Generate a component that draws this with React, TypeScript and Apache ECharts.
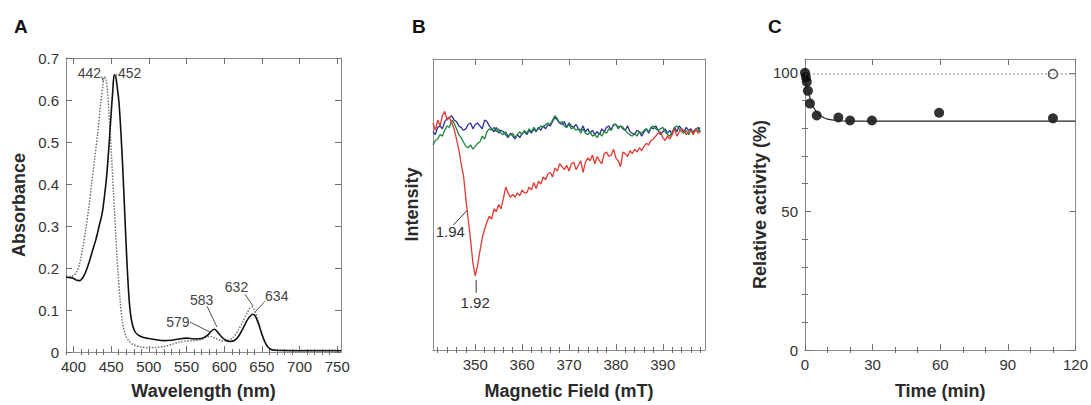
import React, { useEffect, useRef } from "react";
import * as echarts from "echarts";

// ---------- Panel A: absorption spectra ----------
const wavelengthReduced = [390, 396, 400, 404, 408, 412, 416, 420, 425, 430, 434, 438, 441, 444, 447, 450, 452, 454, 456, 458, 460, 462, 465, 468, 471, 474, 477, 481, 486, 492, 500, 510, 520, 530, 540, 550, 560, 570, 578, 583, 587, 591, 596, 602, 608, 614, 620, 626, 632, 638, 641, 645, 649, 653, 657, 662, 668, 700, 755];
const absorbanceReduced = [0.178, 0.177, 0.175, 0.171, 0.17, 0.176, 0.19, 0.21, 0.24, 0.27, 0.3, 0.33, 0.37, 0.42, 0.49, 0.57, 0.62, 0.66, 0.655, 0.63, 0.6, 0.55, 0.45, 0.33, 0.21, 0.12, 0.075, 0.05, 0.04, 0.035, 0.032, 0.029, 0.027, 0.028, 0.031, 0.033, 0.031, 0.032, 0.04, 0.05, 0.054, 0.048, 0.037, 0.028, 0.025, 0.028, 0.04, 0.06, 0.08, 0.09, 0.086, 0.07, 0.048, 0.028, 0.014, 0.006, 0.004, 0.003, 0.003];
const wavelengthOxidized = [390, 396, 400, 404, 408, 412, 416, 420, 424, 428, 432, 436, 439, 441, 443, 445, 447, 450, 453, 456, 459, 462, 465, 469, 474, 480, 490, 500, 510, 520, 530, 540, 550, 560, 570, 577, 582, 588, 594, 600, 606, 612, 618, 624, 630, 634, 637, 640, 644, 648, 652, 656, 660, 666, 700, 755];
const absorbanceOxidized = [0.18, 0.18, 0.182, 0.19, 0.21, 0.245, 0.29, 0.34, 0.4, 0.46, 0.52, 0.59, 0.635, 0.655, 0.65, 0.62, 0.57, 0.48, 0.38, 0.28, 0.19, 0.12, 0.07, 0.04, 0.025, 0.017, 0.012, 0.01, 0.011, 0.013, 0.018, 0.023, 0.026, 0.027, 0.03, 0.036, 0.037, 0.033, 0.028, 0.026, 0.028, 0.035, 0.05, 0.07, 0.092, 0.104, 0.107, 0.1, 0.08, 0.055, 0.032, 0.017, 0.009, 0.005, 0.004, 0.004];
const wavelengthTicks = [400, 450, 500, 550, 600, 650, 700, 750];
const wavelengthMinorTicks = [390, 410, 420, 430, 440, 460, 470, 480, 490, 510, 520, 530, 540, 560, 570, 580, 590, 610, 620, 630, 640, 660, 670, 680, 690, 710, 720, 730, 740];
const absorbanceTicks = [0, 0.1, 0.2, 0.3, 0.4, 0.5, 0.6, 0.7];
const spectrumNotes = [
  { text: "442", at: [436.5, 0.6645], align: "right", line: [[437.3, 0.656], [439.5, 0.644]] },
  { text: "452", at: [459, 0.6645], align: "left", line: [[455, 0.653], [457.7, 0.662]] },
  { text: "579", at: [538.5, 0.0705], align: "center", line: [[554.6, 0.0712], [581.1, 0.0475]] },
  { text: "583", at: [570.1, 0.1239], align: "center", line: [[577.2, 0.109], [590.4, 0.0593]] },
  { text: "632", at: [616.3, 0.1554], align: "center", line: [[627.6, 0.1376], [638.2, 0.1092]] },
  { text: "634", at: [669.7, 0.1329], align: "center", line: [[654.1, 0.121], [640.9, 0.0949]] },
];

// ---------- Panel B: EPR spectra ----------
const magneticField = [
  341, 341.5, 342, 342.5, 343, 343.5, 344, 344.5, 345, 345.5,
  346, 346.5, 347, 347.5, 348, 348.5, 349, 349.5, 350, 350.5,
  351, 351.5, 352, 352.5, 353, 353.5, 354, 354.5, 355, 355.5,
  356, 356.5, 357, 357.5, 358, 358.5, 359, 359.5, 360, 360.5,
  361, 361.5, 362, 362.5, 363, 363.5, 364, 364.5, 365, 365.5,
  366, 366.5, 367, 367.5, 368, 368.5, 369, 369.5, 370, 370.5,
  371, 371.5, 372, 372.5, 373, 373.5, 374, 374.5, 375, 375.5,
  376, 376.5, 377, 377.5, 378, 378.5, 379, 379.5, 380, 380.5,
  381, 381.5, 382, 382.5, 383, 383.5, 384, 384.5, 385, 385.5,
  386, 386.5, 387, 387.5, 388, 388.5, 389, 389.5, 390, 390.5,
  391, 391.5, 392, 392.5, 393, 393.5, 394, 394.5, 395, 395.5,
  396, 396.5, 397, 397.5, 398,
];
const intensityRed = [
  78, 75.5, 79, 77, 80.5, 82, 79, 80, 78, 76,
  72.5, 69, 64, 60, 52, 45, 38, 30, 25.5, 29,
  34, 38.5, 41.5, 44, 46, 45, 48.5, 47.5, 50, 48.5,
  52, 56, 54, 52.5, 53.5, 52.5, 54, 53, 55, 54,
  54, 56, 55, 57.5, 55.5, 58, 57, 59.5, 58.5, 60.5,
  61, 59.5, 62.5, 61.5, 64, 63, 62, 63.5, 61.5, 64,
  64.5, 62, 63.5, 65, 61, 64.5, 66, 65, 67, 64,
  66.5, 65, 64, 67.5, 68, 66.5, 67, 69, 66, 65,
  63, 68, 67.5, 66.5, 68.5, 67.5, 69, 68, 69.5, 68.5,
  70, 71, 70.5, 72, 72.5, 73.5, 74.5, 75, 73, 72,
  73.5, 72.5, 74, 76, 73.5, 75, 76, 75.5, 74, 75,
  75.5, 74, 76, 74.5, 75,
];
const intensityBlue = [
  75, 74, 76.5, 77, 76, 78.5, 79.5, 80, 80.5, 79,
  78.5, 77, 76.5, 75.5, 76, 77.5, 78, 76, 77.5, 78,
  77, 76, 79, 78.5, 77, 76, 75, 76.5, 74.5, 75.5,
  75, 74, 73, 74.5, 73.5, 72.5, 74, 73, 74.5, 75,
  74, 75.5, 74.5, 76, 75, 76.5, 75.5, 77, 76, 77.5,
  77, 78.5, 80, 79, 78, 77.5, 78.5, 76.5, 78, 77,
  76.5, 77.5, 76, 75.5, 77, 75, 76, 74.5, 75.5, 74,
  75, 74, 76, 75, 76.5, 77, 75.5, 77.5, 77.5, 76.5,
  77, 76, 75.5, 77, 75, 74.5, 74, 75.5, 75, 73.5,
  75, 76, 74.5, 76.5, 76, 77, 75.5, 74, 75, 76,
  74.5, 75.5, 74, 76.5, 75, 77, 76, 75, 76.5, 75.5,
  76, 74.5, 75.5, 76.5, 75,
];
const intensityGreen = [
  70.5, 72, 72.5, 74, 73.5, 75.5, 77, 76.5, 79, 78,
  76, 74, 73, 71.5, 70, 69.5, 70.5, 69, 70, 71,
  71.5, 73.5, 72.5, 75, 76, 75.5, 76.5, 75, 76, 74.5,
  74, 75, 73.5, 74, 74.5, 73, 74, 75, 74, 75.5,
  74.5, 76, 75, 76.5, 75.5, 76, 77, 76.5, 77.5, 78,
  77.5, 79, 80.5, 79.5, 78, 78.5, 77, 76.5, 77.5, 76,
  76.5, 75.5, 76, 74.5, 76, 74.5, 74, 75, 73.5, 74,
  73, 74.5, 73.5, 75, 74.5, 76, 75.5, 77.5, 77.5, 76,
  77, 76.5, 75.5, 74.5, 74, 73.5, 74.5, 73.5, 75, 74.5,
  75.5, 76, 75, 76.5, 77, 76, 75.5, 76, 76.5, 75,
  74, 73.5, 75, 76.5, 77, 76, 75, 74.5, 75.5, 74,
  75.5, 75, 76, 75, 76.5,
];
const fieldTicks = [350, 360, 370, 380, 390];
const fieldMinorTicks = [342, 344, 346, 348, 352, 354, 356, 358, 362, 364, 366, 368, 372, 374, 376, 378, 382, 384, 386, 388, 392, 394, 396, 398];
const eprNotes = [
  { text: "1.94", at: [344.7, 40.6], align: "center", line: [[345.3, 42.9], [348.3, 48]] },
  { text: "1.92", at: [350, 16.2], align: "center", line: [[350.2, 24.1], [350.2, 19.7]] },
];

// ---------- Panel C: relative activity ----------
const timeFilled = [0, 0.4, 0.8, 1.3, 2.2, 5.2, 14.8, 20, 29.7, 59.5, 110];
const activityFilled = [100, 98.5, 96.8, 93.5, 88.9, 84.6, 83.9, 82.8, 82.8, 85.6, 83.6];
const timeOpen = [110];
const activityOpen = [99.6];
const timeFit = [0, 0.5, 1, 1.5, 2, 3, 4, 5, 6, 8, 10, 14, 20, 120];
const activityFit = [100, 97.2, 95, 93.2, 91.5, 89, 87.3, 86, 85.1, 84, 83.3, 82.8, 82.6, 82.6];
const timeControl = [0, 120];
const activityControl = [99.6, 99.6];
const timeTicks = [0, 30, 60, 90, 120];
const timeMinorTicks = [10, 20, 40, 50, 70, 80, 100, 110];
const activityTicks = [0, 50, 100];
const activityMinorTicks = [10, 20, 30, 40, 60, 70, 80, 90];

const FONT = '"Liberation Sans", Arial, Helvetica, sans-serif';
const FRAME = "#8a8a8a";
const TICK = "#707070";
const TEXT = "#2a2a2a";

const zip = (xs: number[], ys: number[]) => xs.map((x, i) => [x, ys[i]]);

const nameStyle = { fontFamily: FONT, fontSize: 18, fontWeight: "bold", color: TEXT };
const labelStyle = { fontFamily: FONT, fontSize: 15, color: "#333" };

function xAxes(grid: number, min: number, max: number, major: number[], minor: number[], name: string, nameGap: number) {
  const base = { type: "value", gridIndex: grid, min, max, splitLine: { show: false } };
  const line = { show: true, onZero: false, lineStyle: { color: FRAME, width: 1 } };
  const tick = (vals: number[], len: number) => ({
    show: vals.length > 0, inside: true, length: len, customValues: vals, lineStyle: { color: TICK, width: 1 },
  });
  return [
    { ...base, position: "bottom", name, nameLocation: "middle", nameGap, nameTextStyle: nameStyle, axisLine: line, axisTick: tick(major, 6), axisLabel: { show: true, customValues: major, margin: 7, ...labelStyle } },
    { ...base, position: "bottom", axisLine: { show: false }, axisTick: tick(minor, 3), axisLabel: { show: false } },
    { ...base, position: "top", axisLine: line, axisTick: tick(major, 6), axisLabel: { show: false } },
    { ...base, position: "top", axisLine: { show: false }, axisTick: tick(minor, 3), axisLabel: { show: false } },
  ];
}

function yAxes(grid: number, min: number, max: number, major: number[], minor: number[], name: string, nameGap: number, fmt?: (v: number) => string) {
  const base = { type: "value", gridIndex: grid, min, max, splitLine: { show: false } };
  const line = { show: true, onZero: false, lineStyle: { color: FRAME, width: 1 } };
  const tick = (vals: number[], len: number) => ({
    show: vals.length > 0, inside: true, length: len, customValues: vals, lineStyle: { color: TICK, width: 1 },
  });
  return [
    { ...base, position: "left", name, nameLocation: "middle", nameGap, nameTextStyle: nameStyle, axisLine: line, axisTick: tick(major, 6), axisLabel: { show: major.length > 0, customValues: major, margin: 7, formatter: fmt, ...labelStyle } },
    { ...base, position: "left", axisLine: { show: false }, axisTick: tick(minor, 3), axisLabel: { show: false } },
    { ...base, position: "right", axisLine: line, axisTick: tick(major, 6), axisLabel: { show: false } },
    { ...base, position: "right", axisLine: { show: false }, axisTick: tick(minor, 3), axisLabel: { show: false } },
  ];
}

export default function App() {
  const ref = useRef<HTMLDivElement>(null);
  useEffect(() => {
    document.body.style.margin = "0";
    if (!ref.current) return;
    const chart = echarts.init(ref.current, undefined, { renderer: "svg" });
    const option: any = {
      animation: false,
      backgroundColor: "#ffffff",
      textStyle: { fontFamily: FONT },
      grid: [
        { left: 66, top: 58, width: 275, height: 295 },
        { left: 433, top: 59, width: 272, height: 294 },
        { left: 805, top: 59, width: 275, height: 294 },
      ],
      xAxis: [
        ...xAxes(0, 390, 755, wavelengthTicks, wavelengthMinorTicks, "Wavelength (nm)", 30),
        ...xAxes(1, 341, 399, fieldTicks, fieldMinorTicks, "Magnetic Field (mT)", 32),
        ...xAxes(2, 0, 120, timeTicks, timeMinorTicks, "Time (min)", 32),
      ],
      yAxis: [
        ...yAxes(0, 0, 0.7, absorbanceTicks, [], "Absorbance", 38, (v: number) => (v === 0 ? "0" : v.toFixed(1))),
        ...yAxes(1, 0, 100, [], [], "Intensity", 12),
        ...yAxes(2, 0, 105, activityTicks, activityMinorTicks, "Relative activity (%)", 34),
      ],
      series: [
        {
          type: "line", name: "442", xAxisIndex: 0, yAxisIndex: 0, showSymbol: false, smooth: 0.3,
          data: zip(wavelengthOxidized, absorbanceOxidized),
          lineStyle: { color: "#6a6a6a", width: 1.4, type: [1.5, 1.5] },
        },
        {
          type: "line", name: "452", xAxisIndex: 0, yAxisIndex: 0, showSymbol: false, smooth: 0.3,
          data: zip(wavelengthReduced, absorbanceReduced),
          lineStyle: { color: "#111", width: 1.6 },
        },
        {
          type: "line", name: "blue", xAxisIndex: 4, yAxisIndex: 4, showSymbol: false,
          data: zip(magneticField, intensityBlue), lineStyle: { color: "#2b2f9e", width: 1.3 },
        },
        {
          type: "line", name: "green", xAxisIndex: 4, yAxisIndex: 4, showSymbol: false,
          data: zip(magneticField, intensityGreen), lineStyle: { color: "#23853a", width: 1.3 },
        },
        {
          type: "line", name: "red", xAxisIndex: 4, yAxisIndex: 4, showSymbol: false,
          data: zip(magneticField, intensityRed), lineStyle: { color: "#e23a32", width: 1.3 },
        },
        {
          type: "line", name: "control", xAxisIndex: 8, yAxisIndex: 8, showSymbol: false,
          data: zip(timeControl, activityControl), lineStyle: { color: "#8a8a8a", width: 1, type: [2, 2] },
        },
        {
          type: "line", name: "fit", xAxisIndex: 8, yAxisIndex: 8, showSymbol: false, smooth: 0.3,
          data: zip(timeFit, activityFit), lineStyle: { color: "#222", width: 1.2 },
        },
        {
          type: "scatter", name: "treated", xAxisIndex: 8, yAxisIndex: 8, symbolSize: 10,
          data: zip(timeFilled, activityFilled), itemStyle: { color: "#000" },
        },
        {
          type: "scatter", name: "untreated", xAxisIndex: 8, yAxisIndex: 8, symbolSize: 9,
          data: zip(timeOpen, activityOpen), itemStyle: { color: "#fff", borderColor: "#222", borderWidth: 1.5 },
        },
      ],
    };
    chart.setOption(option);

    const graphics: any[] = [
      { type: "text", left: 14, top: 17, style: { text: "A", font: `bold 19px ${FONT}`, fill: "#111" } },
      { type: "text", left: 412, top: 17, style: { text: "B", font: `bold 19px ${FONT}`, fill: "#111" } },
      { type: "text", left: 768, top: 17, style: { text: "C", font: `bold 19px ${FONT}`, fill: "#111" } },
    ];
    const addNotes = (notes: any[], seriesIndex: number, color: string, size: number, lineColor: string) => {
      notes.forEach((n) => {
        const p = chart.convertToPixel({ seriesIndex }, n.at) as number[];
        graphics.push({
          type: "text", x: p[0], y: p[1], z: 10,
          style: { text: n.text, font: `${size}px ${FONT}`, fill: color, align: n.align, verticalAlign: "middle" },
        });
        const a = chart.convertToPixel({ seriesIndex }, n.line[0]) as number[];
        const b = chart.convertToPixel({ seriesIndex }, n.line[1]) as number[];
        graphics.push({
          type: "line", z: 10, shape: { x1: a[0], y1: a[1], x2: b[0], y2: b[1] },
          style: { stroke: lineColor, lineWidth: 1 },
        });
      });
    };
    addNotes(spectrumNotes, 0, "#444", 14, "#555");
    addNotes(eprNotes, 2, "#333", 15, "#333");
    chart.setOption({ graphic: graphics });

    return () => chart.dispose();
  }, []);
  return <div ref={ref} style={{ width: 1091, height: 405 }} />;
}
